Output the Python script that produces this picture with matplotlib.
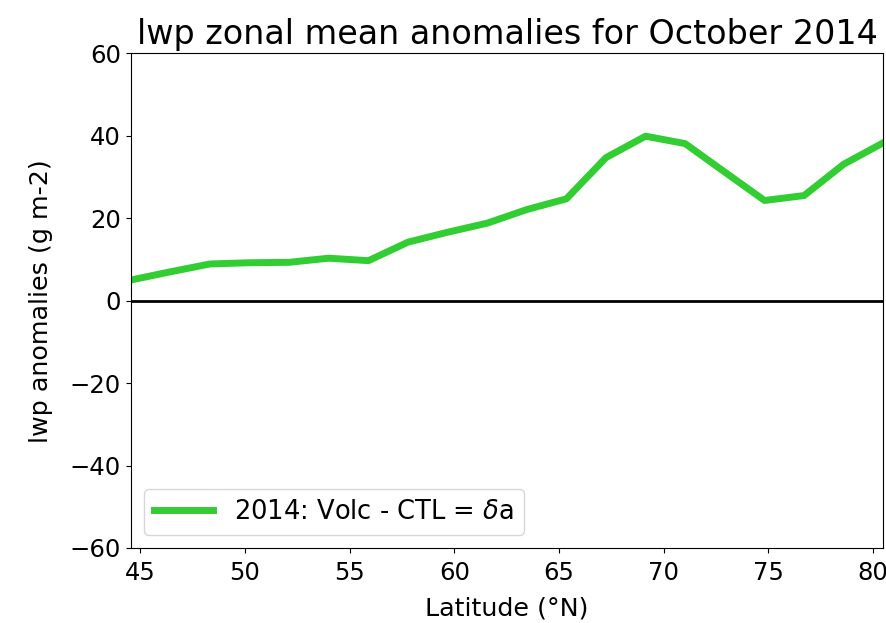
import matplotlib
matplotlib.use('Agg')
import matplotlib.pyplot as plt

# Zonal mean lwp anomalies, Volc minus CTL, October 2014
lat = [44.55, 46.44, 48.33, 50.22, 52.11, 54.00, 55.90, 57.79, 59.68, 61.57,
       63.46, 65.35, 67.24, 69.13, 71.02, 72.91, 74.81, 76.70, 78.59, 80.48]
lwp_anom = [5.0, 7.0, 8.9, 9.2, 9.3, 10.3, 9.7, 14.2, 16.6, 18.8,
            22.1, 24.7, 34.7, 39.9, 38.1, 31.2, 24.3, 25.5, 33.1, 38.3]
xticks = [45, 50, 55, 60, 65, 70, 75, 80]
yticks = [-60, -40, -20, 0, 20, 40, 60]

fig = plt.figure(figsize=(8.87, 6.23), dpi=100)
ax = fig.add_axes([0.1474, 0.1204, 0.8484, 0.794])

ax.plot(lat, lwp_anom, color='limegreen', linewidth=5, label=r'2014: Volc - CTL = $\delta$a')
ax.axhline(0, color='k', linewidth=2)

ax.set_xlim(lat[0], lat[-1])
ax.set_ylim(-60, 60)
ax.set_xticks(xticks)
ax.set_yticks(yticks)
ax.tick_params(labelsize=17.5)
ax.tick_params(axis='x', pad=6)

ax.set_title('lwp zonal mean anomalies for October 2014', fontsize=24, pad=7)
ax.set_xlabel('Latitude (°N)', fontsize=18.3, labelpad=8)
ax.set_ylabel('lwp anomalies (g m-2)', fontsize=18.3, labelpad=12)
ax.legend(loc='lower left', fontsize=18.5, handlelength=2.3)

plt.savefig('out.png', dpi=100)
